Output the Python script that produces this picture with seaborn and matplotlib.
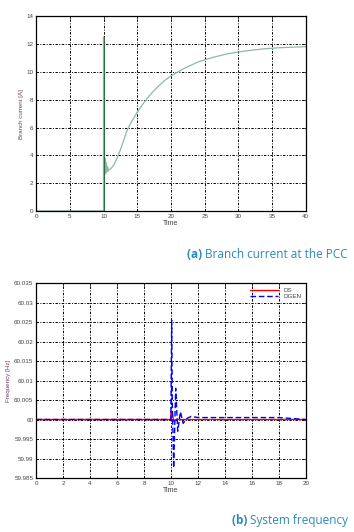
import numpy as np
import pandas as pd
import seaborn as sns
import matplotlib.pyplot as plt

# branch current at the PCC
t_cur = [0, 9.99, 10.0, 10.01, 10.05, 10.1, 10.15, 10.2, 10.3, 10.4, 10.5, 10.6, 10.7, 10.8,
         11, 11.5, 12, 12.5, 13, 13.5, 14, 15, 16, 17, 18, 19, 20, 22, 24, 26, 28, 30,
         32, 34, 36, 38, 40]
i_cur = [0, 0, 12.5, 3.0, 2.5, 4.7, 2.6, 3.8, 2.7, 3.5, 2.8, 3.2, 2.9, 3.0,
         3.0, 3.3, 3.8, 4.4, 5.1, 5.8, 6.3, 7.1, 7.8, 8.4, 8.9, 9.35, 9.7, 10.25, 10.7, 11.0, 11.25, 11.42,
         11.55, 11.65, 11.72, 11.76, 11.8]

# system frequency
t_ds = [0, 9.99, 10.02, 10.05, 10.1, 10.2, 10.4, 20]
f_ds = [60, 60, 60.002, 60.0005, 60.0015, 59.9995, 60, 60]
t_dg = [0, 9.99, 10.05, 10.1, 10.2, 10.35, 10.5, 10.7, 10.9, 11.2, 11.5, 12, 18, 20]
f_dg = [60, 60, 60.0255, 60.004, 59.9876, 60.008, 59.997, 60.002, 59.999, 60.0003, 60.0008, 60.0005, 60.0005, 60.0]

sns.set_style("white")
plt.rcParams['font.family'] = ['Liberation Sans', 'DejaVu Sans']

fig = plt.figure(figsize=(3.54, 5.32), dpi=100)
ax1 = fig.add_axes([0.102, 0.603, 0.762, 0.367])
ax2 = fig.add_axes([0.102, 0.1015, 0.762, 0.3665])

lab_col = '#6b4060'
tick_col = '#444444'

df_cur = pd.DataFrame({'Time': t_cur, 'I': i_cur})
sns.lineplot(data=df_cur, x='Time', y='I', ax=ax1, color='#8fb8a0', linewidth=0.9, estimator=None, sort=False)
ax1.plot([10, 10], [0, 12.5], color='#2e6b4a', linewidth=0.8)
ax1.plot([0, 10], [0, 0], color='#2e6b4a', linewidth=1.0)
ax1.set_xlim(0, 40)
ax1.set_ylim(0, 14)
ax1.set_xticks(range(0, 41, 5))
ax1.set_yticks(range(0, 15, 2))
ax1.set_ylabel('Branch current [A]', fontsize=4.5, color=lab_col, labelpad=2)
ax1.set_xlabel('Time', fontsize=5, color=tick_col, labelpad=1)

df_ds = pd.DataFrame({'Time': t_ds, 'f': f_ds})
df_dg = pd.DataFrame({'Time': t_dg, 'f': f_dg})
sns.lineplot(data=df_ds, x='Time', y='f', ax=ax2, color='red', linewidth=1.0, estimator=None, sort=False, label='DS')
sns.lineplot(data=df_dg, x='Time', y='f', ax=ax2, color='blue', linewidth=1.0, estimator=None, sort=False,
             linestyle='--', label='DGEN')
ax2.lines[-1].set_dashes([4, 2])
ax2.set_xlim(0, 20)
ax2.set_ylim(59.985, 60.035)
ax2.set_xticks(range(0, 21, 2))
ax2.set_yticks(np.round(np.arange(59.985, 60.0351, 0.005), 3))
ax2.set_yticklabels(['59.985', '59.99', '59.995', '60', '60.005', '60.01', '60.015',
                     '60.02', '60.025', '60.03', '60.035'])
ax2.set_ylabel('Frequency [Hz]', fontsize=4.5, color=lab_col, labelpad=2)
ax2.set_xlabel('Time', fontsize=5, color=tick_col, labelpad=1)
leg = ax2.legend(loc='upper right', fontsize=4.5, frameon=False, handlelength=4.5, borderaxespad=0.3,
                 labelspacing=0.2)
for t in leg.get_texts():
    t.set_color(tick_col)

for ax in (ax1, ax2):
    ax.grid(True, color='black', linestyle=(0, (2.5, 1.5, 1, 1.5)), linewidth=0.7)
    ax.tick_params(direction='in', length=2, width=0.6, labelsize=4.5, labelcolor=tick_col, pad=2,
                   top=True, right=True)
    for s in ax.spines.values():
        s.set_color('black')
        s.set_linewidth(0.9)

cap = '#2a8ab8'
cap_font = ['Open Sans', 'DejaVu Sans']
for y, bold, rest in [(0.521, '(a)', 'Branch current at the PCC'), (0.0215, '(b)', 'System frequency')]:
    t = fig.text(0.983, y, rest, ha='right', va='center', fontsize=8.5, color=cap, family=cap_font)
    fig.canvas.draw()
    plt.annotate(bold + ' ', xy=(0, 0.5), xycoords=t, ha='right', va='center', fontsize=8.5,
                 color=cap, fontweight='bold', family=cap_font)

fig.savefig('out.png', dpi=100)
